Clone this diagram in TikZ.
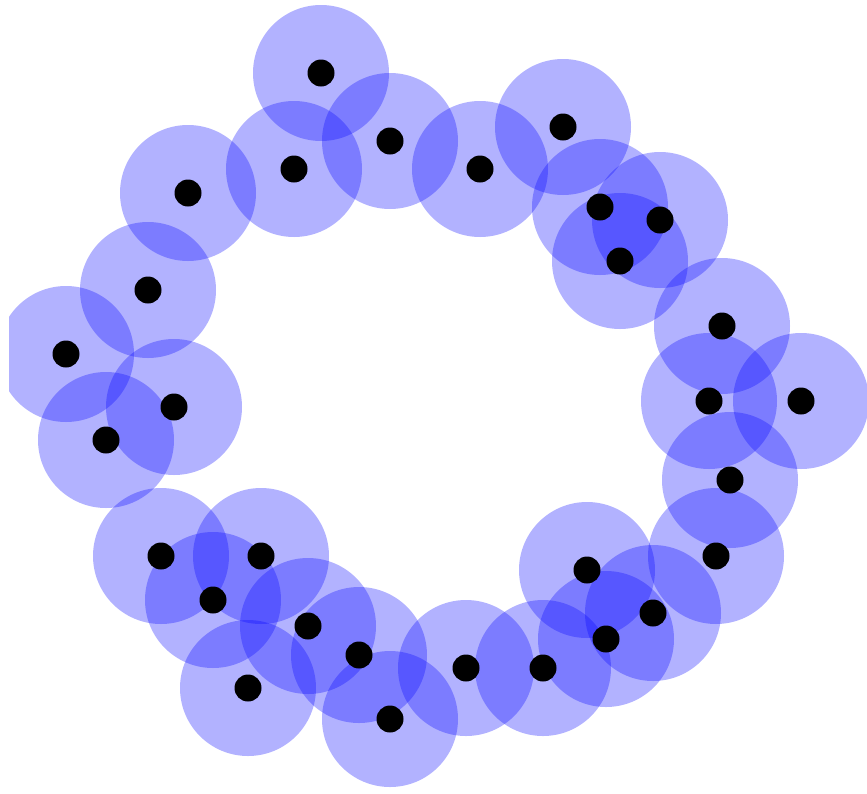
\documentclass[tikz,border=0pt]{standalone}
\begin{document}
\begin{tikzpicture}[x=1pt,y=-1pt,
  blob/.style={circle,inner sep=0pt,minimum size=136pt,fill=blue,fill opacity=0.3,draw=none},
  dotnode/.style={circle,inner sep=0pt,minimum size=27pt,fill=black,draw=none}]
\useasboundingbox (0,0) rectangle (867,793);
\clip (9,0) rectangle (867,793);
\foreach \px/\py [count=\i] in {321/73,390/141,294/169,188/193,480/169,563/127,600/207,660/220,620/261,148/290,66/354,174/407,106/440,722/326,709/401,801/401,730/480,716/556,161/556,261/556,213/600,308/626,359/655,248/688,390/719,466/668,543/668,587/570,653/613,606/639}{
  \node[blob] (c\i) at (\px,\py) {};
}
\foreach \px/\py [count=\i] in {321/73,390/141,294/169,188/193,480/169,563/127,600/207,660/220,620/261,148/290,66/354,174/407,106/440,722/326,709/401,801/401,730/480,716/556,161/556,261/556,213/600,308/626,359/655,248/688,390/719,466/668,543/668,587/570,653/613,606/639}{
  \node[dotnode] (d\i) at (\px,\py) {};
}
\end{tikzpicture}
\end{document}
